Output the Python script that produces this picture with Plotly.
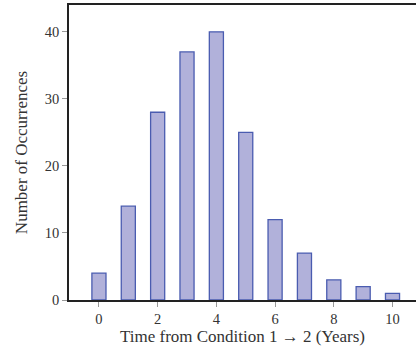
import plotly.graph_objects as go

years = [0, 1, 2, 3, 4, 5, 6, 7, 8, 9, 10]
counts = [4, 14, 28, 37, 40, 25, 12, 7, 3, 2, 1]
x_ticks = [0, 2, 4, 6, 8, 10]
y_ticks = [0, 10, 20, 30, 40]

font = "Liberation Serif, DejaVu Serif, serif"

fig = go.Figure(go.Bar(
    x=years, y=counts, width=0.48,
    marker=dict(color="#b1b1da", line=dict(color="#4a5cb0", width=1.3)),
))

fig.update_layout(
    width=416, height=346,
    margin=dict(l=69, r=0, t=5, b=46),
    paper_bgcolor="white", plot_bgcolor="white",
    showlegend=False,
    font=dict(family=font, size=14, color="#333"),
)
fig.update_xaxes(
    range=[-1.02, 10.8], tickvals=x_ticks, ticks="outside", ticklen=5,
    tickcolor="#999", showline=True, linecolor="#222", linewidth=1.5,
    mirror=True, showgrid=False, zeroline=False,
    tickfont=dict(size=14.5),
    title=dict(text="Time from Condition 1 → 2 (Years)", standoff=5),
)
fig.update_yaxes(
    range=[0, 44], tickvals=y_ticks, ticks="outside", ticklen=5,
    tickcolor="#999", showline=True, linecolor="#222", linewidth=1.5,
    showgrid=False, zeroline=False,
    tickfont=dict(size=14.5),
    title=dict(text="Number of Occurrences", standoff=13),
)

fig.write_html("out.html", config={"displayModeBar": False},
               post_script="document.body.style.margin='0';")
